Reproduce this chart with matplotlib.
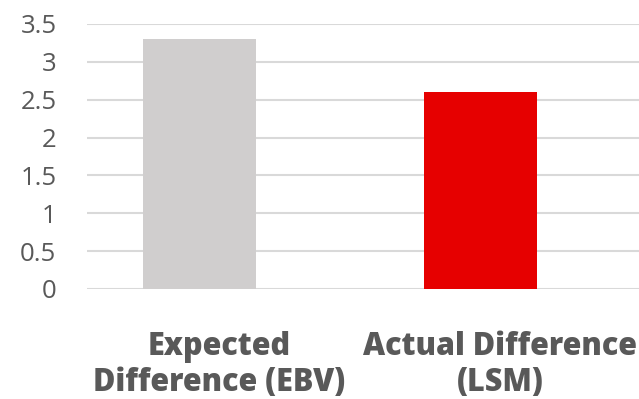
import matplotlib.pyplot as plt

categories = ["Expected\nDifference (EBV)", "Actual Difference\n(LSM)"]
values = [3.3, 2.6]
bar_colors = ["#d0cece", "#e60000"]
y_ticks = [0, 0.5, 1, 1.5, 2, 2.5, 3, 3.5]
y_tick_labels = ["0", "0.5", "1", "1.5", "2", "2.5", "3", "3.5"]

fig = plt.figure(figsize=(6.39, 3.99), dpi=100)
ax = fig.add_axes([0.1362, 0.2757, 0.8638, 0.6642])

positions = range(len(values))
ax.bar(positions, values, width=0.402, color=bar_colors, zorder=3)

ax.set_ylim(0, 3.5)
ax.set_xlim(-0.4004, 1.564)
ax.set_yticks(y_ticks)
ax.set_yticklabels(y_tick_labels, fontsize=18.5, color="#595959", family="Open Sans")
ax.grid(True, axis="y", color="#d9d9d9", linewidth=1.5, zorder=0)
ax.tick_params(axis="y", length=0, pad=22)

# category labels sit slightly right of the bar centres
ax.set_xticks([p + 0.07 for p in positions])
ax.set_xticklabels(categories, fontsize=22, fontweight="heavy", color="#595959",
                   family="Open Sans", linespacing=1.2)
ax.tick_params(axis="x", length=0, pad=30)

for spine in ax.spines.values():
    spine.set_visible(False)

fig.savefig("out.png", dpi=100)
